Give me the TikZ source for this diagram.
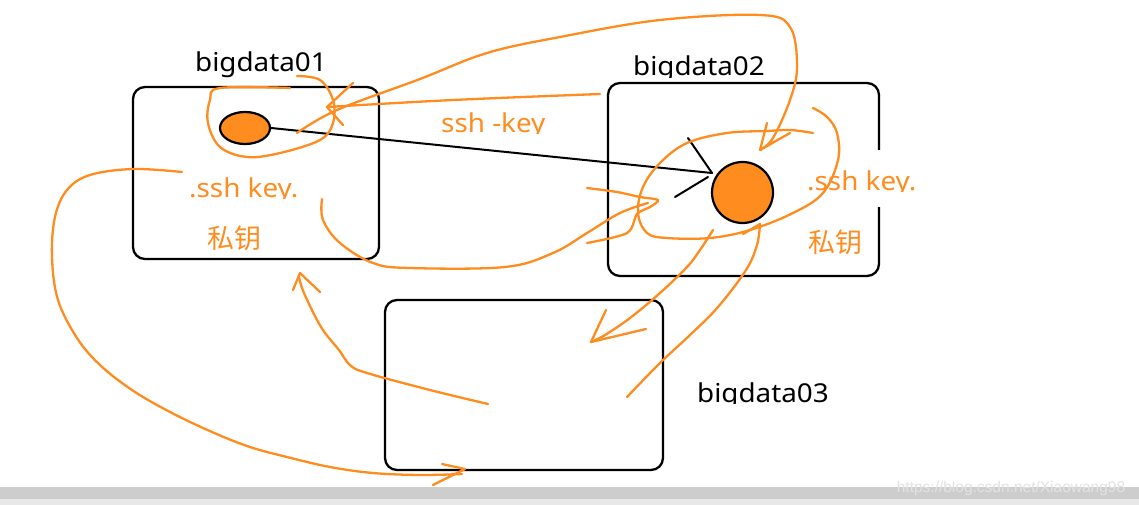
\documentclass[tikz,border=0pt]{standalone}
\usepackage{fontspec}
\setmainfont{Noto Sans}[FakeStretch=1.07]
\newfontfamily\cjkfont{Noto Sans CJK SC}
\newfontfamily\wmfont{Liberation Sans}
\usetikzlibrary{shapes.geometric}
\definecolor{ink}{RGB}{255,140,30}
\definecolor{barc}{RGB}{205,205,205}
\definecolor{barl}{RGB}{232,232,232}
\begin{document}
\begin{tikzpicture}[x=1pt,y=-1pt,
  box/.style={draw=black, line width=2.3pt, rounded corners=12pt, inner sep=0pt},
  stroke/.style={draw=ink, line width=2.3pt, line cap=round, line join=round},
  blk/.style={draw=black, line width=2pt, line cap=round},
  lbl/.style={font=\fontsize{26}{30}\selectfont, inner sep=0pt},
  olbl/.style={lbl, text=ink},
  cjk/.style={font=\cjkfont\fontsize{27}{30}\selectfont, text=ink, inner sep=0pt}]
\useasboundingbox (0,0) rectangle (1139,505);
\fill[white] (0,0) rectangle (1139,505);
% bottom bar
\fill[barc] (0,487) rectangle (1139,499);
\fill[barl] (0,499) rectangle (1139,505);
\node[font=\wmfont\fontsize{15.5}{17}\selectfont, text=white!89!black, inner sep=0pt] (wm) at (1011,488) {https://blog.csdn.net/Xiaowang98};

% boxes
\node[box, minimum width=246pt, minimum height=172pt] (b1) at (256,173) {};
\node[box, minimum width=271pt, minimum height=193pt] (b2) at (743.5,179.5) {};
\node[box, minimum width=278pt, minimum height=170pt] (b3) at (524,385) {};
\fill[white] (870,150) rectangle (890,207);

% labels
\node[lbl, anchor=base west] (t1) at (195,72) {bigdata01};
\begin{scope}
  \clip (600,0) rectangle (800,77.5);
  \node[lbl, anchor=base west] (t2) at (633,76) {bigdata02};
\end{scope}
\begin{scope}
  \clip (680,350) rectangle (860,403.5);
  \node[lbl, anchor=base west] (t3) at (697,402) {bigdata03};
\end{scope}
\begin{scope}
  \clip (430,90) rectangle (560,134);
  \node[olbl, anchor=base west] (k0) at (441,133) {ssh -key};
\end{scope}
\begin{scope}
  \clip (180,160) rectangle (310,198.5);
  \node[olbl, anchor=base west] (k1) at (189,197) {.ssh key.};
\end{scope}
\begin{scope}
  \clip (800,150) rectangle (930,191.5);
  \node[olbl, anchor=base west] (k2) at (807,190) {.ssh key.};
\end{scope}
\node[cjk] (p1) at (234,238) {私钥};
\node[cjk] (p2) at (835,242) {私钥};

% keys
\node[ellipse, draw=black, line width=2.2pt, fill=ink, minimum width=50pt, minimum height=32pt, inner sep=0pt] (e1) at (245,128) {};
\node[circle, draw=black, line width=2.2pt, fill=ink, minimum size=61pt, inner sep=0pt] (c2) at (742.5,192.5) {};

% black arrow
\coordinate (tip) at (712,173);
\draw[blk] (e1.east) -- (tip);
\draw[blk] (688,138) -- (tip);
\draw[blk] (675,197) -- (708,177);

% orange freehand strokes
% loop around e1
\draw[stroke] plot[smooth, tension=0.6] coordinates {(297,76) (320,80) (333,100) (333,123) (320,140) (280,153) (247,157) (220,147) (208,123) (210,100) (220,88) (290,88)};
% long curve from e1 over top to c2
\draw[stroke] plot[smooth, tension=0.6] coordinates {(297,133) (337,110) (420,79) (487,53) (560,37) (660,20) (760,15) (790,27) (797,67) (790,100) (773,138) (760,150)};
\draw[stroke] (767,123) -- (760,150) -- (790,133);
% line from b2 to e1
\draw[stroke] plot[smooth, tension=0.6] coordinates {(600,94) (453,100) (327,107)};
\draw[stroke] (353,83) -- (327,107) -- (343,125);
% spiral around c2
\draw[stroke] plot[smooth, tension=0.6] coordinates {(813,133) (790,130) (767,131) (727,133) (687,143) (660,163) (643,187) (638,213) (647,233) (667,238) (710,238) (750,230) (793,213) (823,193) (838,160) (837,133) (827,117) (813,108)};
% arrowhead shape left of c2
\draw[stroke] plot[smooth, tension=0.5] coordinates {(587,188) (617,192) (640,197) (658,200) (650,207) (637,214) (627,233) (587,243)};
% curve from b1 bottom to c2
\draw[stroke] plot[smooth, tension=0.6] coordinates {(322,199) (323,220) (340,243) (373,263) (410,268) (505,267) (553,253) (587,233) (620,213) (648,203)};
% from c2 down into b3
\draw[stroke] plot[smooth, tension=0.6] coordinates {(713,230) (700,250) (687,267) (660,293) (630,318) (605,335) (591,342)};
\draw[stroke] (606,310) -- (591,342) -- (646,329);
% from b3 up to c2
\draw[stroke] plot[smooth, tension=0.6] coordinates {(627,397) (660,363) (690,335) (718,307) (746,270) (757,245) (760,224)};
\draw[stroke] (743,234) -- (760,224);
% from b3 up to b1
\draw[stroke] plot[smooth, tension=0.6] coordinates {(488,404) (430,390) (367,373) (350,365) (339,350) (321,327) (304,293) (299,277)};
\draw[stroke] (293,290) -- (300,273) -- (320,292);
% big curve from b1 around to b3 bottom
\draw[stroke] plot[smooth, tension=0.6] coordinates {(182,172) (133,169) (90,175) (67,190) (55,217) (52,257) (58,300) (77,338) (100,365) (132,390) (170,412) (212,432) (250,447) (287,457) (330,467) (373,473) (420,475) (462,474)};
\draw[stroke] (442,464) -- (465,469) -- (433,485);
\end{tikzpicture}
\end{document}
